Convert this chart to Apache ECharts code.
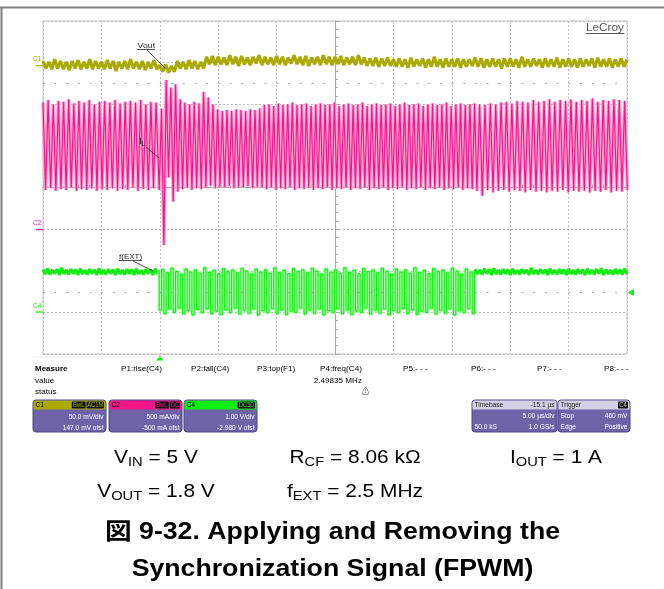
<!DOCTYPE html>
<html>
<head>
<meta charset="utf-8">
<script src="https://cdn.jsdelivr.net/npm/echarts@6/dist/echarts.min.js"></script>
<style>
html, body { margin: 0; padding: 0; background: #fff; }
#main { width: 664px; height: 589px; }
</style>
</head>
<body>
<div id="main"></div>
<script>
// scope channel settings (from the channel boxes)
const chNames = ["C1", "C2", "C4"];
const chScale = [50, 0.5, 1];          // mV/div, A/div, V/div
const chOffset = [147, -0.5, -2.98];   // same units
const chColors = ["#aaaa00", "#f5168a", "#12ee12"];
const chShades = ["#d8d880", "#ffa6d2", "#a8ffa8"];

// C1 : Vout ripple in mV (AC coupled), one sample every 0.25 us
const voutStart = 0;
const voutStep = 0.25;
const vout = [
  5,-4,4,-5,7,-4,5,-5,4,-6,5,-4,6,-5,4,-4,7,-5,5,-4,
  4,-5,6,-4,5,-7,4,-4,5,-5,7,-4,4,-5,5,-6,4,-4,6,-5,
  0,-8,1,-9,-1,-8,5,-4,4,-5,6,-4,5,-5,4,-4,10,1,11,0,
  10,1,9,0,12,1,10,-1,11,1,9,0,10,2,12,0,10,1,9,0,
  11,1,10,0,9,2,12,1,10,0,11,-1,9,1,10,0,12,1,10,0,
  10,1,11,0,9,1,10,0,12,1,9,-1,8,-1,9,-2,8,-1,9,-1,
  7,-2,8,-2,7,-3,9,-2,7,-1,8,-3,7,-2,10,-2,7,-3,8,-2,
  7,-2,8,-3,7,-2,7,-1,9,-2,8,-3,7,-2,8,-2,7,-4,8,-2,
  8,-2,7,-3,10,-2,7,-2,8,-1,7,-3,8,-2,7,-2,9,-3,7,-2,
  8,-2,7,-3,8,-2,7,-1,8,-3,9,-2,7,-2,8,-3,7,-2,8,-2,
  7
];

// C2 : inductor current in A, peaks / valleys of each half cycle
const ilStart = [0, 9.95, 37.38];   // us
const ilStep = [0.22, 0.2, 0.23];   // us per half cycle
const ilFree = [
  1.52,0.47,1.55,0.49,1.50,0.46,1.54,0.48,1.53,0.47,
  1.56,0.50,1.51,0.46,1.54,0.48,1.52,0.47,1.55,0.49,
  1.50,0.46,1.53,0.48,1.54,0.47,1.52,0.49,1.55,0.46,
  1.51,0.48,1.53,0.47,1.54,0.50,1.52,0.46,1.55,0.48,
  1.50,0.47,1.53,0.49,1.52
];
const ilSync = [
  0.47,1.45,-0.19,1.79,0.62,1.70,0.33,1.74,0.45,1.56,
  0.48,1.52,0.50,1.50,0.47,1.53,0.49,1.51,0.48,1.65,
  0.50,1.58,0.52,1.50,0.49,1.44,0.51,1.42,0.50,1.43,
  0.52,1.42,0.49,1.44,0.51,1.43,0.50,1.42,0.52,1.44,
  0.49,1.43,0.51,1.45,0.50,1.49,0.48,1.50,0.50,1.48,
  0.47,1.51,0.49,1.49,0.48,1.50,0.50,1.52,0.47,1.49,
  0.49,1.50,0.48,1.51,0.50,1.48,0.47,1.50,0.49,1.51,
  0.48,1.49,0.50,1.50,0.47,1.52,0.49,1.48,0.48,1.50,
  0.50,1.51,0.47,1.49,0.49,1.50,0.48,1.52,0.50,1.48,
  0.47,1.50,0.49,1.51,0.48,1.49,0.50,1.50,0.47,1.51,
  0.49,1.48,0.48,1.50,0.50,1.52,0.47,1.49,0.49,1.50,
  0.48,1.51,0.50,1.48,0.47,1.50,0.49,1.51,0.48,1.49,
  0.50,1.50,0.47,1.52,0.49,1.48,0.48,1.50,0.50,1.51,
  0.47,1.49,0.49,1.50,0.48,1.51,0.46
];
const ilAfter = [
  1.50,0.40,1.49,0.47,1.51,0.44,1.50,0.46,1.52,0.47,
  1.53,0.45,1.51,0.47,1.54,0.46,1.53,0.44,1.52,0.47,
  1.55,0.45,1.53,0.46,1.54,0.44,1.56,0.46,1.53,0.45,
  1.55,0.47,1.54,0.44,1.56,0.46,1.53,0.45,1.55,0.46,
  1.54,0.44,1.57,0.46,1.53,0.45,1.55,0.47,1.54,0.44,
  1.56,0.46,1.55,0.45,1.54,0.47
];

// C4 : f(EXT) pin in V
const extStart = [0, 9.75, 37.0];
const extStep = [0.2, 0.2, 0.2];
const extIdle = [
  1.01,0.90,1.03,0.89,1.00,0.91,1.02,0.88,1.05,0.90,
  1.00,0.89,1.02,0.91,1.01,0.88,1.03,0.90,0.99,0.89,
  1.02,0.91,1.01,0.88,1.04,0.90,1.00,0.89,1.02,0.91,
  1.01,0.88,1.03,0.90,1.00,0.89,1.02,0.91,1.01,0.88,
  1.03,0.90,0.99,0.89,1.02,0.91,1.01,0.88,1.03,0.90
];
const extClock = [
  0.97,0.03,1.01,-0.05,0.93,0.06,1.04,-0.02,0.96,0.08,
  0.90,-0.06,1.02,0.02,0.95,-0.08,1.00,0.05,0.92,-0.03,
  1.05,0.07,0.94,-0.05,0.99,0.01,0.91,-0.07,1.03,0.04,
  0.96,-0.02,1.00,0.08,0.93,-0.06,1.04,0.03,0.97,-0.04,
  0.90,0.06,1.02,-0.08,0.95,0.02,1.00,-0.03,0.92,0.07,
  1.05,-0.05,0.94,0.04,0.99,-0.07,0.91,0.01,1.03,-0.02,
  0.96,0.08,1.00,-0.06,0.93,0.03,1.04,-0.04,0.97,0.06,
  0.90,-0.08,1.02,0.02,0.95,-0.03,1.00,0.07,0.92,-0.05,
  1.05,0.04,0.94,-0.07,0.99,0.01,0.91,-0.02,1.03,0.08,
  0.96,-0.06,1.00,0.03,0.93,-0.04,1.04,0.06,0.97,-0.08,
  0.90,0.02,1.02,-0.03,0.95,0.07,1.00,-0.05,0.92,0.04,
  1.05,-0.07,0.94,0.01,0.99,-0.02,0.91,0.08,1.03,-0.06,
  0.96,0.03,1.00,-0.04,0.93,0.06,1.04,-0.08,0.97,0.02,
  0.90,-0.03,1.02,0.07,0.95,-0.05,0.99
];
const extIdle2 = [
  1.02,0.90,1.00,0.89,1.03,0.91,1.01,0.88,1.04,0.90,
  1.00,0.89,1.02,0.91,1.01,0.88,1.03,0.90,0.99,0.89,
  1.02,0.91,1.01,0.88,1.05,0.90,1.00,0.89,1.02,0.91,
  1.01,0.88,1.03,0.90,1.00,0.89,1.02,0.91,1.01,0.88,
  1.03,0.90,0.99,0.89,1.02,0.91,1.01,0.88,1.03,0.90,
  1.00,0.89,1.02,0.91,1.04,0.88,1.01,0.90,1.00,0.89,
  1.02,0.91,1.01,0.89,1.03,0.90
];

const trigTime = 10;      // us
const trigLevel = 0.46;   // V, on C4
const timeSpan = 50;      // 10 div x 5 us

// measure line and info boxes
const measureHeads = ["P1:rise(C4)", "P2:fall(C4)", "P3:top(F1)", "P4:freq(C4)", "P5:- - -", "P6:- - -", "P7:- - -", "P8:- - -"];
const measureX = [121, 191, 257, 320, 403, 471, 537, 604];
const measureValue = "2.49835 MHz";
const boxTags = [["BwL", "AC1M"], ["BwL", "DC"], ["DC50"]];
const boxRow1 = ["50.0 mV/div", "500 mA/div", "1.00 V/div"];
const boxRow2 = ["147.0 mV ofst", "-500 mA ofst", "-2.980 V ofst"];
const timebaseRows = [["Timebase", "-15.1 µs"], ["", "5.00 µs/div"], ["50.0 kS", "1.0 GS/s"]];
const triggerRows = [["Trigger", ""], ["Stop", "460 mV"], ["Edge", "Positive"]];

const FONT = '"Liberation Sans", Arial, "Noto Sans CJK JP", sans-serif';

const chart = echarts.init(document.getElementById("main"));

function toDiv(ch, v) {
  return (v + chOffset[ch]) / chScale[ch];
}
function trace(ch, values, t0, dt) {
  return values.map((v, i) => [t0 + i * dt, toDiv(ch, v)]);
}

const voutData = trace(0, vout, voutStart, voutStep);
const ilData = trace(1, ilFree, ilStart[0], ilStep[0])
  .concat(trace(1, ilSync, ilStart[1], ilStep[1]))
  .concat(trace(1, ilAfter, ilStart[2], ilStep[2]));
const clockData = trace(2, extClock, extStart[1], extStep[1]);

const gridStyle = { color: "#bcbcbc", type: [2, 2], width: 1 };
const dots = { color: "#9a9a9a", type: [1.5, 10.18], width: 1 };

function waveSeries(data, color, width, extra) {
  return Object.assign({
    type: "line",
    data: data,
    showSymbol: false,
    symbol: "none",
    silent: true,
    clip: true,
    lineStyle: { color: color, width: width, join: "bevel" },
    emphasis: { disabled: true },
  }, extra || {});
}

const option = {
  animation: false,
  backgroundColor: "#fff",
  grid: { left: 43, top: 21, width: 584, height: 333, show: true, borderColor: "#c2c2c2", borderWidth: 1 },
  xAxis: [
    {
      type: "value", min: 0, max: timeSpan, interval: 5,
      axisLine: { show: false }, axisTick: { show: false }, axisLabel: { show: false },
      splitLine: { show: true, lineStyle: gridStyle },
    },
    {
      type: "value", min: 0, max: timeSpan, interval: 5, position: "bottom", offset: -166.5,
      axisLine: { show: true, onZero: false, lineStyle: { color: "#a6a6a6" } },
      axisTick: { show: true, inside: true, length: 4, lineStyle: { color: "#a6a6a6" } },
      minorTick: { show: true, splitNumber: 5, length: 3, lineStyle: { color: "#a6a6a6" } },
      axisLabel: { show: false }, splitLine: { show: false },
    },
  ],
  yAxis: [
    {
      type: "value", min: -4, max: 4, interval: 1,
      axisLine: { show: false }, axisTick: { show: false }, axisLabel: { show: false },
      splitLine: { show: true, lineStyle: gridStyle },
    },
    {
      type: "value", min: -4, max: 4, interval: 1, position: "left", offset: -292,
      axisLine: { show: true, onZero: false, lineStyle: { color: "#a6a6a6" } },
      axisTick: { show: true, inside: true, length: 4, lineStyle: { color: "#a6a6a6" } },
      minorTick: { show: true, splitNumber: 5, length: 3, lineStyle: { color: "#a6a6a6" } },
      axisLabel: { show: false }, splitLine: { show: false },
    },
  ],
  series: [
    waveSeries(voutData, chColors[0], 3.2, {
      markLine: {
        silent: true, symbol: "none", label: { show: false },
        lineStyle: dots, data: [{ yAxis: 2.5 }],
      },
    }),
    // pale afterglow under the dense traces, then the traces themselves
    waveSeries(ilData, chShades[1], 3.6),
    waveSeries(ilData, chColors[1], 1.2),
    waveSeries(trace(2, extIdle, extStart[0], extStep[0]), chColors[2], 3, {
      markLine: {
        silent: true, symbol: "none", label: { show: false },
        lineStyle: dots, data: [{ yAxis: toDiv(2, trigLevel) }],
      },
    }),
    waveSeries(clockData, chShades[2], 3, { step: "end" }),
    waveSeries(clockData, chColors[2], 1.1, { step: "end" }),
    waveSeries(trace(2, extIdle2, extStart[2], extStep[2]), chColors[2], 3),
  ],
};
chart.setOption(option);

// ---- annotations ----
function txt(x, y, s, o) {
  o = o || {};
  const align = o.align || "left";
  return {
    type: "text", x: x, y: y, scaleX: o.sx || 1, silent: true, z: 10,
    style: {
      text: s, fill: o.fill || "#000",
      font: (o.bold ? "bold " : "") + (o.size || 8) + "px " + FONT,
      align: align, textAlign: align, verticalAlign: "middle", textVerticalAlign: "middle",
      rich: o.rich,
    },
  };
}
function line(x1, y1, x2, y2, color, w) {
  return { type: "line", silent: true, z: 10, shape: { x1, y1, x2, y2 }, style: { stroke: color, lineWidth: w || 1 } };
}
// main text and lowered subscript, both bottom aligned in the line box
function subRich(main, sub, ink, lh, drop) {
  return {
    m: { fontSize: main, fontFamily: "Liberation Sans", fill: ink, lineHeight: lh, verticalAlign: "bottom", padding: [0, 0, drop, 0] },
    s: { fontSize: sub, fontFamily: "Liberation Sans", fill: ink, lineHeight: lh, verticalAlign: "bottom" },
  };
}

const g = [];
// page frame
g.push(line(0, 7.5, 664, 7.5, "#808080", 2));
g.push(line(1.5, 7, 1.5, 589, "#808080", 2));

// LeCroy logo
g.push(txt(605, 28, "LeCroy", { size: 11, fill: "#555", align: "center", sx: 1.07 }));
g.push(line(586, 33.5, 624.5, 33.5, "#555", 1));

// channel ground markers
const x0 = chart.convertToPixel({ xAxisIndex: 0 }, 0);
chNames.forEach((n, i) => {
  const y = chart.convertToPixel({ yAxisIndex: 0 }, chOffset[i] / chScale[i]);
  g.push(txt(33, y - 5.5, n, { size: 6.5, fill: chColors[i] }));
  g.push(line(35.5, y + 0.5, x0, y + 0.5, chColors[i], 1.2));
});

// trace labels
g.push(txt(137.5, 45.8, "Vout", { size: 8, fill: "#222", sx: 1.1 }));
g.push(line(137, 49.5, 155, 49.5, "#222", 0.8));
g.push(line(147, 50, 165, 68, "#222", 0.8));
g.push(txt(139, 142, "{m|I}{s|L}", { rich: subRich(9, 6.5, "#222", 11, 1.5), sx: 1.1 }));
g.push(line(146, 147, 159, 158, "#222", 0.8));
g.push(txt(119, 256.5, "f(EXT)", { size: 8, fill: "#222" }));
g.push(line(119, 260.5, 142, 260.5, "#222", 0.8));
g.push(line(133, 261, 153, 271, "#222", 0.8));

// trigger position and level markers
const tx = chart.convertToPixel({ xAxisIndex: 0 }, trigTime);
g.push({ type: "polygon", silent: true, shape: { points: [[tx - 3.5, 360.5], [tx + 3.5, 360.5], [tx, 355]] }, style: { fill: chColors[2] } });
const ty = chart.convertToPixel({ yAxisIndex: 0 }, toDiv(2, trigLevel));
g.push({ type: "polygon", silent: true, shape: { points: [[627.5, ty], [634, ty - 3.5], [634, ty + 3.5]] }, style: { fill: chColors[2] } });

// measure area
g.push(line(33, 357, 627, 357, "#ececec", 1));
g.push(txt(35, 369, "Measure", { bold: true, size: 8 }));
g.push(txt(35, 380.5, "value", { size: 7.5, sx: 1.08 }));
g.push(txt(35, 392, "status", { size: 7.5, sx: 1.08 }));
measureHeads.forEach((m, i) => g.push(txt(measureX[i], 369, m, { size: 7.5, sx: 1.08 })));
g.push(txt(362, 380.5, measureValue, { size: 7.5, sx: 1.08, align: "right" }));
g.push(txt(365.5, 391.5, "⚠", { size: 7.5, align: "center", fill: "#333" }));

// channel boxes
const boxX = [33, 109, 184];
const BODY = "#6d63a6";
function boxFrame(x, w, head) {
  g.push({ type: "rect", silent: true, shape: { x: x, y: 400, width: w, height: 32, r: 3 }, style: { fill: BODY, stroke: "#4f4688", lineWidth: 1 } });
  g.push({ type: "rect", silent: true, shape: { x: x + 0.5, y: 400.5, width: w - 1, height: 9, r: [2.5, 2.5, 0, 0] }, style: { fill: head } });
}
chNames.forEach((n, i) => {
  const x = boxX[i], w = 73;
  boxFrame(x, w, chColors[i]);
  g.push(txt(x + 2.5, 405, n, { size: 7.5, sx: 0.9 }));
  let right = x + w - 2;
  for (let k = boxTags[i].length - 1; k >= 0; k--) {
    const tw = boxTags[i][k].length * 3.6 + 3;
    g.push({ type: "rect", silent: true, shape: { x: right - tw, y: 401.5, width: tw, height: 7, r: 1 }, style: { fill: "#111" } });
    g.push(txt(right - tw / 2, 405, boxTags[i][k], { size: 6.5, sx: 0.9, align: "center", fill: chColors[i] }));
    right -= tw + 1;
  }
  g.push(txt(x + w - 2.5, 417, boxRow1[i], { size: 7.5, sx: 0.88, align: "right", fill: "#fff" }));
  g.push(txt(x + w - 2.5, 427.5, boxRow2[i], { size: 7.5, sx: 0.88, align: "right", fill: "#fff" }));
});
function infoBox(x, w, rows, tag) {
  boxFrame(x, w, "#d3d0e6");
  rows.forEach((r, i) => {
    const y = 405 + i * 11.2;
    const ink = i === 0 ? "#222" : "#fff";
    if (r[0]) g.push(txt(x + 2.5, y, r[0], { size: 7.5, sx: 0.88, fill: ink }));
    if (r[1]) g.push(txt(x + w - 2.5, y, r[1], { size: 7.5, sx: 0.88, align: "right", fill: ink }));
  });
  if (tag) {
    g.push({ type: "rect", silent: true, shape: { x: x + w - 12, y: 401.5, width: 10, height: 7, r: 1 }, style: { fill: "#111" } });
    g.push(txt(x + w - 7, 405, tag, { size: 6.5, sx: 0.9, align: "center", fill: "#ddd" }));
  }
}
infoBox(472, 85, timebaseRows);
infoBox(558, 72, triggerRows, "C4");

// conditions under the screen shot
const condRich = subRich(18.5, 13, "#000", 24, 2.2);
const conds = [
  [156, 457.4, "{m|V}{s|IN}{m| = 5 V}"],
  [355, 457.4, "{m|R}{s|CF}{m| = 8.06 kΩ}"],
  [556, 457.4, "{m|I}{s|OUT}{m| = 1 A}"],
  [156, 491.2, "{m|V}{s|OUT}{m| = 1.8 V}"],
  [355, 491.2, "{m|f}{s|EXT}{m| = 2.5 MHz}"],
];
conds.forEach((c) => g.push(txt(c[0], c[1], c[2], { rich: condRich, align: "center", sx: 1.13 })));

// caption
g.push(txt(332.5, 533, "図 9-32. Applying and Removing the", { bold: true, size: 23, align: "center", sx: 1.16 }));
g.push(txt(332.5, 570, "Synchronization Signal (FPWM)", { bold: true, size: 23, align: "center", sx: 1.16 }));

chart.setOption({ graphic: { elements: g } });
</script>
</body>
</html>
